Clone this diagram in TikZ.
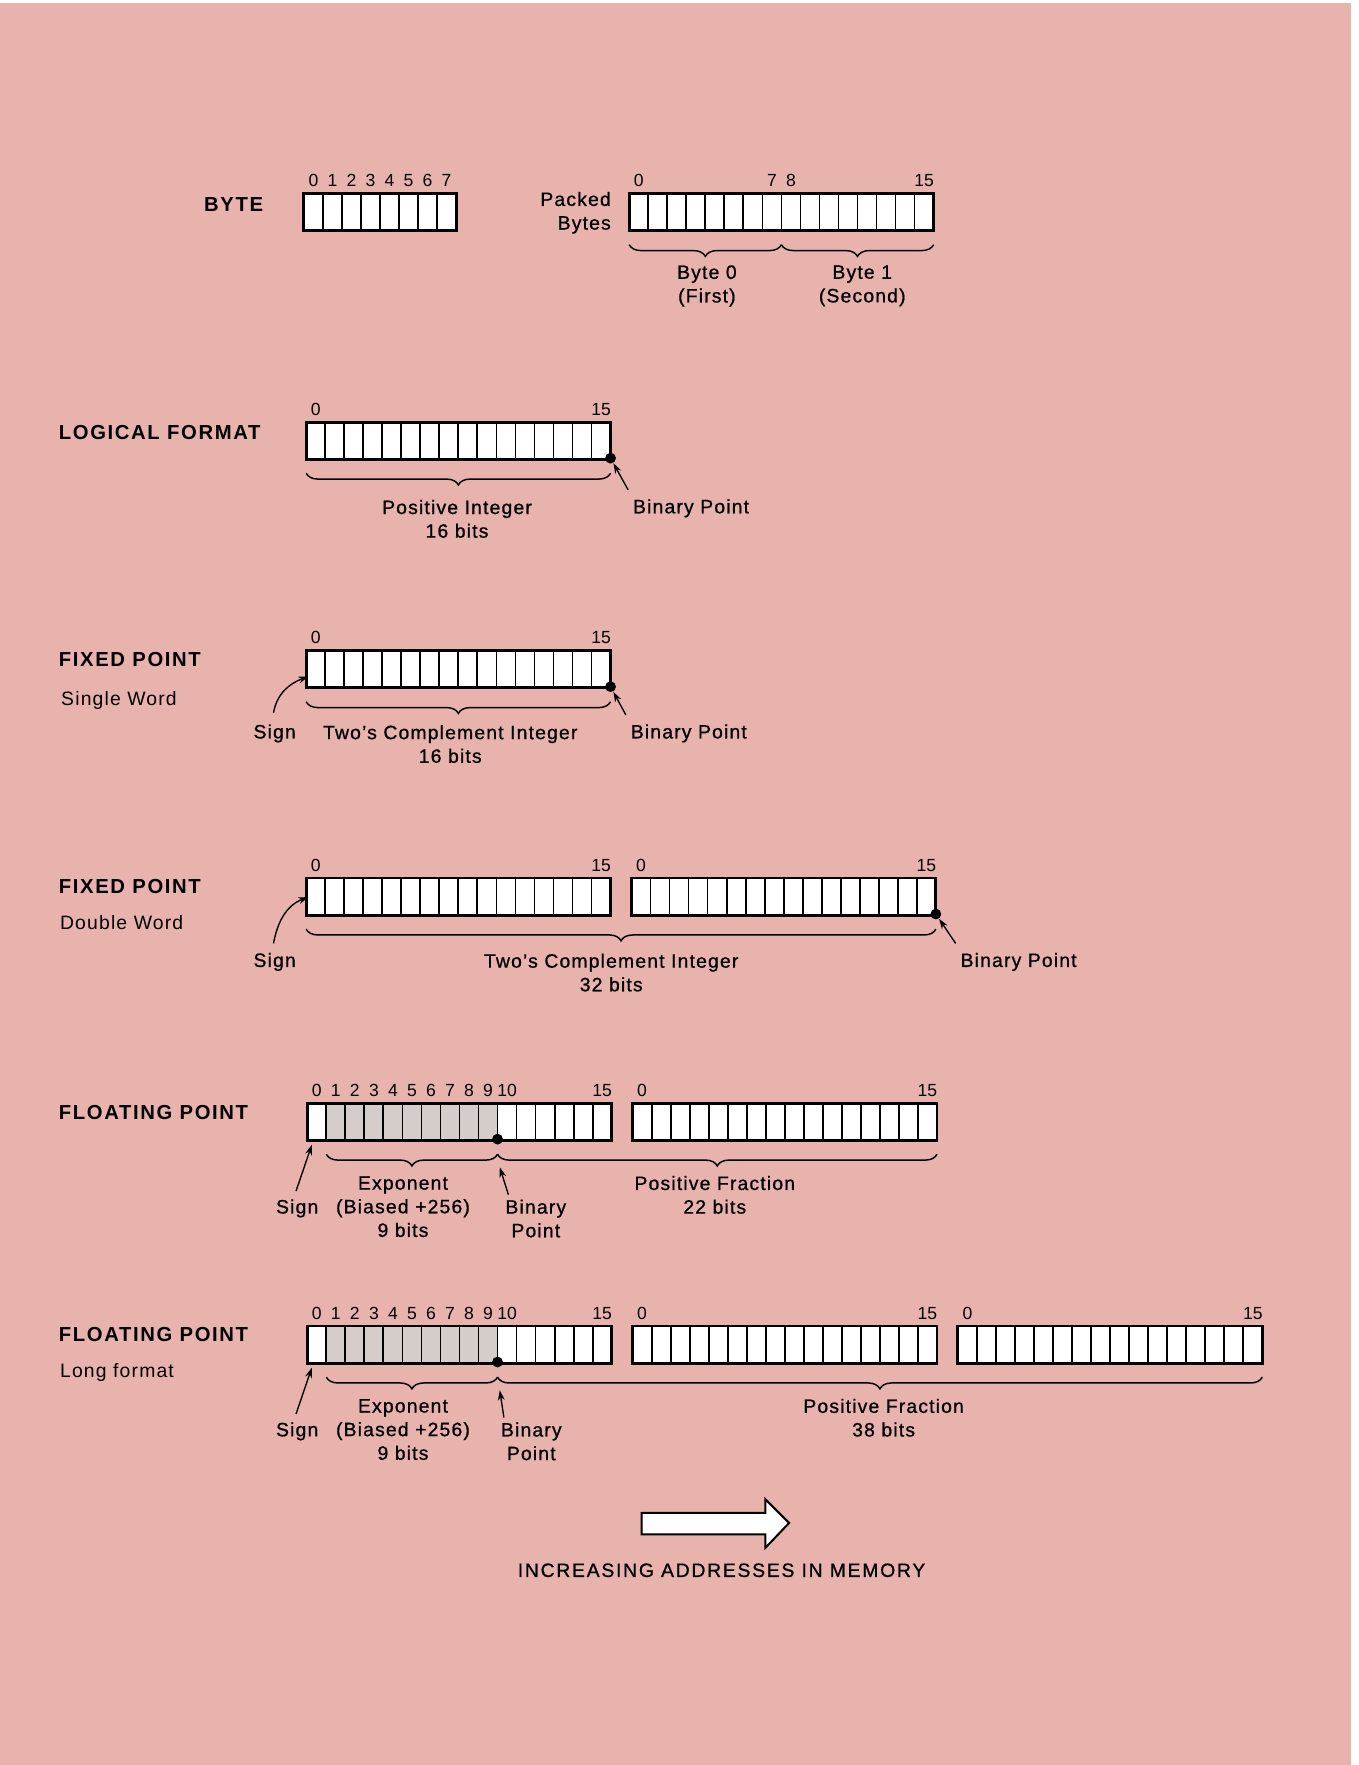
\documentclass[tikz,border=0pt]{standalone}
\usepackage{fontspec}
\setmainfont{Liberation Sans}
\newfontfamily\labfam[LetterSpace=6,FakeBold=0.8]{Liberation Sans}
\newfontfamily\capfam[LetterSpace=9,FakeBold=0.8]{Liberation Sans}
\newfontfamily\subfam[LetterSpace=6]{Liberation Sans}
\newfontfamily\ttlfam[LetterSpace=8]{Liberation Sans}
\newfontfamily\numfam{Liberation Sans}
\usetikzlibrary{arrows.meta}
\usetikzlibrary{decorations.pathreplacing}

\definecolor{pagepink}{RGB}{232,179,173}
\definecolor{expgray}{RGB}{212,205,202}

\tikzset{
  regbox/.style={draw, fill=white, line width=1.3pt, inner sep=0pt, outer sep=0pt,
    minimum height=16.5pt, anchor=north west},
  cellline/.style={line width=0.8pt},
  expcells/.style={path picture={\fill[expgray]
    ([xshift=8.45pt]path picture bounding box.north west) rectangle
    ([xshift=84.5pt]path picture bounding box.south west);}},
  bitnum/.style={font=\numfam\fontsize{7.8}{9}\selectfont, anchor=base, inner sep=0pt},
  fmttitle/.style={font=\ttlfam\bfseries\fontsize{9}{11}\selectfont, anchor=base west, inner sep=0pt},
  subtitle/.style={font=\subfam\fontsize{8.6}{10.5}\selectfont, anchor=base west, inner sep=0pt},
  lbl/.style={font=\labfam\fontsize{8.6}{10.5}\selectfont, align=center, inner sep=1pt},
  brc/.style={decorate, decoration={brace, mirror, amplitude=5.2pt}, line width=0.65pt},
  bpdot/.style={circle, fill=black, inner sep=0pt, minimum size=4.8pt},
  ptr/.style={-{Stealth[length=4.5pt,width=3pt]}, line width=0.6pt},
}

% one register: [extra] name, x, top y, cells
\newcommand{\wordbox}[5][]{%
  \node[regbox, minimum width=#5*8.45pt, #1] (#2) at (#3,#4) {};
  \pgfmathtruncatemacro{\lastcell}{#5-1}
  \foreach \c in {1,...,\lastcell}
    \draw[cellline] (#3+\c*16.9, #4) -- (#3+\c*16.9, #4+33);
}
% bit numbers over a register: name, x, top y, list
\newcommand{\bitnums}[4]{%
  \foreach \b in {#4}
    \node[bitnum] (#1-\b) at (#2+\b*16.9+8.45, #3-6) {\b};
}

\begin{document}
\begin{tikzpicture}[x=0.5pt, y=-0.5pt]
\fill[white] (0,0) rectangle (1207,1568);
\fill[pagepink] (0,3) rectangle (1200,1568);
\useasboundingbox (0,0) rectangle (1207,1568);

% byte
\node[fmttitle] (byte-t) at (181,187.5) {BYTE};
\wordbox{byte}{270}{172}{8}
\bitnums{byte}{270}{172}{0,...,7}
\node[lbl, align=right, anchor=east] (pack-t) at (545,189) {Packed\\Bytes};
\wordbox{pack}{559}{172}{16}
\bitnums{pack}{559}{172}{0,7,8,15}
\draw[brc] ([yshift=-6.2pt]pack.south west) -- ([shift={(67.6pt,-6.2pt)}]pack.south west);
\draw[brc] ([shift={(67.6pt,-6.2pt)}]pack.south west) -- ([yshift=-6.2pt]pack.south east);
\node[lbl] (byte0) at (628,254) {Byte 0\\(First)};
\node[lbl] (byte1) at (766,254) {Byte 1\\(Second)};

% logical
\node[fmttitle] (lgc-t) at (52,390.5) {LOGICAL FORMAT};
\wordbox{lgc}{272}{375}{16}
\bitnums{lgc}{272}{375}{0,15}
\node[bpdot] (lgc-bp) at ([yshift=0.5pt]lgc.south east) {};
\draw[brc] ([yshift=-6.2pt]lgc.south west) -- ([yshift=-6.2pt]lgc.south east);
\node[lbl] (lgc-int) at (406,461) {Positive Integer\\16 bits};
\node[lbl, anchor=base west] (lgc-bpt) at (560,456) {Binary Point};
\draw[ptr] ([shift={(-1pt,3pt)}]lgc-bpt.north west) -- (lgc-bp);

% fixed point, single word
\node[fmttitle] (fxs-t) at (52,592.5) {FIXED POINT};
\node[subtitle] (fxs-s) at (54,627) {Single Word};
\wordbox{fxs}{272}{578}{16}
\bitnums{fxs}{272}{578}{0,15}
\node[bpdot] (fxs-bp) at ([yshift=0.5pt]fxs.south east) {};
\draw[brc] ([yshift=-6.2pt]fxs.south west) -- ([yshift=-6.2pt]fxs.south east);
\node[lbl, anchor=base] (fxs-sgn) at (244,656) {Sign};
\node[lbl] (fxs-int) at (400,661) {Two’s Complement Integer\\16 bits};
\node[lbl, anchor=base west] (fxs-bpt) at (558,656) {Binary Point};
\draw[ptr] ([shift={(-1pt,3pt)}]fxs-bpt.north west) -- (fxs-bp);
\draw[ptr] ([shift={(-0.5pt,4pt)}]fxs-sgn.north) to[out=80,in=200] ([shift={(1pt,5pt)}]fxs.south west);

% fixed point, double word
\node[fmttitle] (fxd-t) at (52,793.5) {FIXED POINT};
\node[subtitle] (fxd-s) at (53,826) {Double Word};
\wordbox{fxd1}{272}{780}{16}
\wordbox{fxd2}{561}{780}{16}
\bitnums{fxd1}{272}{780}{0,15}
\bitnums{fxd2}{561}{780}{0,15}
\node[bpdot] (fxd-bp) at ([yshift=0.5pt]fxd2.south east) {};
\draw[brc] ([yshift=-6.2pt]fxd1.south west) -- ([yshift=-6.2pt]fxd2.south east);
\node[lbl, anchor=base] (fxd-sgn) at (244,859) {Sign};
\node[lbl] (fxd-int) at (543,864) {Two’s Complement Integer\\32 bits};
\node[lbl, anchor=base west] (fxd-bpt) at (851,859) {Binary Point};
\draw[ptr] ([shift={(-1pt,3pt)}]fxd-bpt.north west) -- (fxd-bp);
\draw[ptr] ([shift={(-0.5pt,3pt)}]fxd-sgn.north) to[out=80,in=200] ([shift={(1pt,8pt)}]fxd1.south west);

% floating point
\node[fmttitle] (flt-t) at (52,994.5) {FLOATING POINT};
\wordbox[expcells]{flt1}{273}{980}{16}
\wordbox{flt2}{562}{980}{16}
\bitnums{flt1}{273}{980}{0,...,10,15}
\bitnums{flt2}{562}{980}{0,15}
\node[bpdot] (flt-bp) at ([shift={(84.5pt,0.5pt)}]flt1.south west) {};
\draw[brc] ([shift={(8.45pt,-6.2pt)}]flt1.south west) -- ([shift={(84.5pt,-6.2pt)}]flt1.south west);
\draw[brc] ([shift={(84.5pt,-6.2pt)}]flt1.south west) -- ([yshift=-6.2pt]flt2.south east);
\node[lbl, anchor=base] (flt-sgn) at (264,1078) {Sign};
\node[lbl] (flt-exp) at (358,1072) {Exponent\\(Biased +256)\\9 bits};
\node[lbl] (flt-bpt) at (476,1082.5) {Binary\\Point};
\node[lbl] (flt-frac) at (635,1061.5) {Positive Fraction\\22 bits};
\draw[ptr] ([shift={(-0.5pt,2.5pt)}]flt-sgn.north) -- ([shift={(2pt,-2pt)}]flt1.south west);
\draw[ptr] ([shift={(2.5pt,1pt)}]flt-bpt.north west) -- ([shift={(1pt,-12.5pt)}]flt-bp.center);

% floating point, long format
\node[fmttitle] (fll-t) at (52,1191.5) {FLOATING POINT};
\node[subtitle] (fll-s) at (53,1224) {Long format};
\wordbox[expcells]{fll1}{273}{1178}{16}
\wordbox{fll2}{562}{1178}{16}
\wordbox{fll3}{851}{1178}{16}
\bitnums{fll1}{273}{1178}{0,...,10,15}
\bitnums{fll2}{562}{1178}{0,15}
\bitnums{fll3}{851}{1178}{0,15}
\node[bpdot] (fll-bp) at ([shift={(84.5pt,0.5pt)}]fll1.south west) {};
\draw[brc] ([shift={(8.45pt,-6.2pt)}]fll1.south west) -- ([shift={(84.5pt,-6.2pt)}]fll1.south west);
\draw[brc] ([shift={(84.5pt,-6.2pt)}]fll1.south west) -- ([yshift=-6.2pt]fll3.south east);
\node[lbl, anchor=base] (fll-sgn) at (264,1276) {Sign};
\node[lbl] (fll-exp) at (358,1270) {Exponent\\(Biased +256)\\9 bits};
\node[lbl] (fll-bpt) at (472,1280.5) {Binary\\Point};
\node[lbl] (fll-frac) at (785,1259.5) {Positive Fraction\\38 bits};
\draw[ptr] ([shift={(-0.5pt,2.5pt)}]fll-sgn.north) -- ([shift={(2pt,-2pt)}]fll1.south west);
\draw[ptr] ([shift={(2.5pt,1pt)}]fll-bpt.north west) -- ([shift={(1pt,-12.5pt)}]fll-bp.center);

% direction of memory
\draw[line width=0.9pt, fill=white] (570,1344) -- (680,1344) -- (680,1332) -- (701,1353)
  -- (680,1375) -- (680,1363) -- (570,1363) -- cycle;
\node[lbl, font=\capfam\fontsize{8.6}{10.5}\selectfont] (addr) at (641,1395) {INCREASING ADDRESSES IN MEMORY};
\end{tikzpicture}
\end{document}
